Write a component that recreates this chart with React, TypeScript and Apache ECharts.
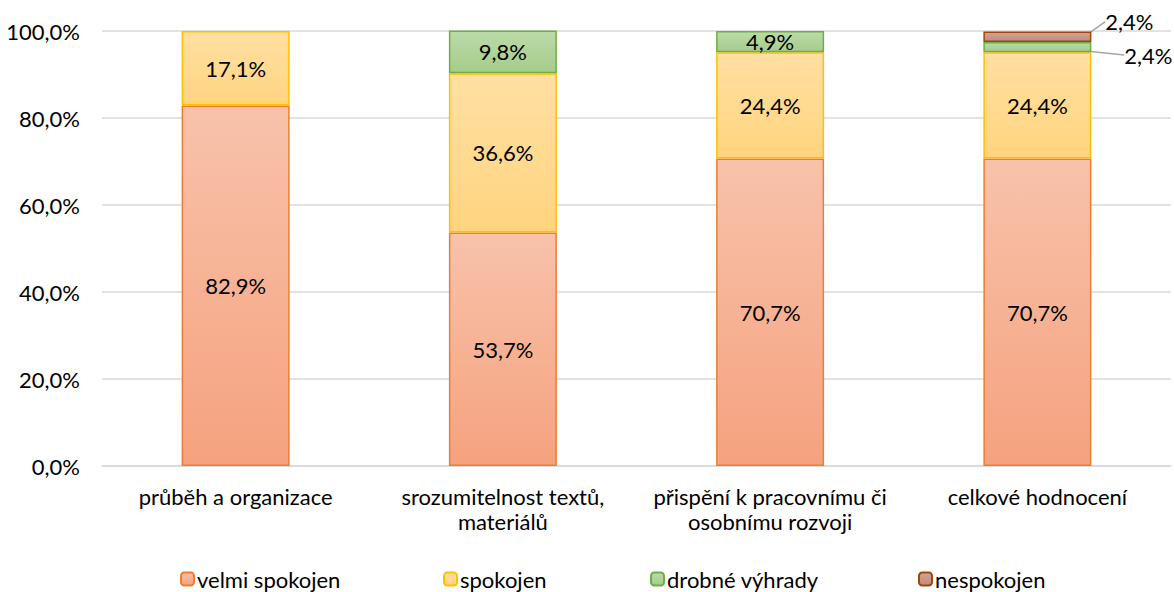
import React, { useEffect, useRef } from "react";
import * as echarts from "echarts";

const categories = [
  "průběh a organizace",
  "srozumitelnost textů,\nmateriálů",
  "přispění k pracovnímu či\nosobnímu rozvoji",
  "celkové hodnocení",
];
const velmiSpokojen = [82.9, 53.7, 70.7, 70.7];
const spokojen = [17.1, 36.6, 24.4, 24.4];
const drobneVyhrady = [0, 9.8, 4.9, 2.4];
const nespokojen = [0, 0, 0, 2.4];
const yTicks = [0, 20, 40, 60, 80, 100];

const FONT = "Lato";
const FS = 22;

const grad = (a: string, b: string) =>
  new echarts.graphic.LinearGradient(0, 0, 0, 1, [
    { offset: 0, color: a },
    { offset: 1, color: b },
  ]);

const fmt = (v: number) => v.toFixed(1).replace(".", ",") + "%";

export default function App() {
  const ref = useRef<HTMLDivElement>(null);
  useEffect(() => {
    if (!ref.current) return;
    const chart = echarts.init(ref.current, null, { renderer: "svg" });
    const mk = (
      name: string,
      values: number[],
      top: string,
      bottom: string,
      border: string,
      outside?: { dx: number; dy: number }
    ) => ({
      name,
      type: "bar",
      stack: "total",
      barWidth: 108,
      data: values.map((v) => (v === 0 ? null : v)),
      itemStyle: { color: grad(top, bottom), borderColor: border, borderWidth: 1.5 },
      label: {
        show: true,
        position: "inside",
        color: "#000",
        fontFamily: FONT,
        fontSize: FS,
        formatter: (p: any) => fmt(p.value),
      },
      labelLine: outside
        ? { show: true, lineStyle: { color: "#a6a6a6", width: 1.5 } }
        : undefined,
      labelLayout: outside
        ? (p: any) => (p.dataIndex === 3 ? { dx: outside.dx, dy: outside.dy } : {})
        : undefined,
    });
    chart.setOption({
      animation: false,
      grid: { left: 102, right: 3, top: 31, bottom: 126 },
      xAxis: {
        type: "category",
        data: categories,
        axisLine: { lineStyle: { color: "#d9d9d9", width: 1.5 } },
        axisTick: { show: false },
        axisLabel: {
          color: "#000",
          fontFamily: FONT,
          fontSize: FS,
          lineHeight: 25,
          margin: 18,
          interval: 0,
        },
      },
      yAxis: {
        type: "value",
        min: yTicks[0],
        max: yTicks[yTicks.length - 1],
        interval: 20,
        axisLabel: {
          color: "#000",
          fontFamily: FONT,
          fontSize: FS,
          margin: 22,
          formatter: (v: number) => fmt(v),
        },
        splitLine: { lineStyle: { color: "#d9d9d9", width: 1.5 } },
      },
      legend: [
        { name: "velmi spokojen", left: 180 },
        { name: "spokojen", left: 443 },
        { name: "drobné výhrady", left: 650 },
        { name: "nespokojen", left: 918 },
      ].map((l) => ({
        data: [l.name],
        left: l.left,
        top: 568,
        itemWidth: 13,
        itemHeight: 13,
        itemGap: 4,
        padding: 0,
        textStyle: { color: "#000", fontFamily: FONT, fontSize: FS, padding: [0, 0, 0, -2] },
      })),
      series: [
        mk("velmi spokojen", velmiSpokojen, "#F8C2AB", "#F5A27E", "#ED7D31"),
        mk("spokojen", spokojen, "#FFE0A3", "#FFD47F", "#FFC000"),
        mk("drobné výhrady", drobneVyhrady, "#BBDAA8", "#A5CD8B", "#70AD47", { dx: 111, dy: 8 }),
        mk("nespokojen", nespokojen, "#D1A399", "#C28A7E", "#9E480E", { dx: 92, dy: -15 }),
      ],
    });
    return () => chart.dispose();
  }, []);
  return <div ref={ref} style={{ width: 1174, height: 592, position: "absolute", left: 0, top: 0 }} />;
}
